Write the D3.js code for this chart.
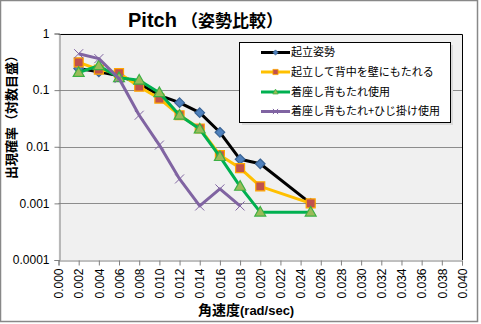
<!DOCTYPE html>
<html>
<head>
<meta charset="utf-8">
<script src="https://cdn.jsdelivr.net/npm/d3@7"></script>
<style>
  html, body { margin: 0; padding: 0; background: #fff; }
  svg { display: block; font-family: "Liberation Sans", Arial, "Noto Sans CJK JP", sans-serif; }
</style>
</head>
<body>
<svg id="chart" width="481" height="324"></svg>
<script>
// Angular velocity (rad/sec) sample points
const xStanding = [0.002, 0.004, 0.006, 0.008, 0.010, 0.012, 0.014, 0.016, 0.018, 0.020, 0.025];
const xArmrest = [0.002, 0.004, 0.006, 0.008, 0.010, 0.012, 0.014, 0.016, 0.018];

// Occurrence probability per posture
const standing     = [0.24, 0.21, 0.18, 0.13, 0.081, 0.06, 0.04, 0.018, 0.006, 0.005, 0.001];
const wallLean     = [0.31, 0.23, 0.20, 0.115, 0.071, 0.036, 0.021, 0.0071, 0.0042, 0.002, 0.001];
const seatedBack   = [0.205, 0.27, 0.165, 0.15, 0.09, 0.036, 0.0205, 0.0067, 0.002, 0.0007, 0.0007];
const seatedArm    = [0.44, 0.36, 0.16, 0.036, 0.0107, 0.0027, 0.0009, 0.0018, 0.0009];

const seriesNames = ["起立姿勢", "起立して背中を壁にもたれる", "着座し背もたれ使用", "着座し背もたれ+ひじ掛け使用"];
const xTicks = d3.range(0, 0.0401, 0.002);
const yTicks = [0.0001, 0.001, 0.01, 0.1, 1];

const svg = d3.select("#chart");
const W = 481, H = 324;

// Chart frame
svg.append("rect").attr("x", 0.5).attr("y", 0.5).attr("width", W - 4).attr("height", H - 3)
  .attr("fill", "#fff").attr("stroke", "#888").attr("stroke-width", 1.5);

const x = d3.scaleLinear().domain([0, 0.04]).range([58.5, 462]);
const y = d3.scaleLog().domain([0.0001, 1]).range([260, 33.5]);

// Plot area
svg.append("rect").attr("x", x(0)).attr("y", y(1)).attr("width", x(0.04) - x(0)).attr("height", y(0.0001) - y(1))
  .attr("fill", "#F0F0F0");

// Horizontal decade gridlines
svg.append("g").selectAll("line").data([0.001, 0.01, 0.1]).join("line")
  .attr("x1", x(0)).attr("x2", x(0.04))
  .attr("y1", d => Math.round(y(d)) + 0.5).attr("y2", d => Math.round(y(d)) + 0.5)
  .attr("stroke", "#8C8C8C").attr("stroke-width", 1);

// Top and right frame of the plot area
svg.append("path")
  .attr("d", `M${x(0)},${Math.round(y(1)) + 0.5}H${Math.round(x(0.04)) + 0.5}V${y(0.0001)}`)
  .attr("fill", "none").attr("stroke", "#000").attr("stroke-width", 1);

// Axes
const xAxis = d3.axisBottom(x).tickValues(xTicks).tickFormat(d3.format(".3f")).tickSize(5).tickPadding(3);
const gx = svg.append("g").attr("transform", `translate(0,${Math.round(y(0.0001)) + 0.5})`).call(xAxis);
gx.select(".domain").attr("stroke", "#808080");
gx.selectAll(".tick line").attr("stroke", "#808080");
gx.selectAll(".tick text")
  .attr("transform", "rotate(-90)")
  .attr("text-anchor", "end")
  .attr("x", -8).attr("y", 0).attr("dy", "0.35em")
  .attr("font-size", 12).attr("fill", "#000")
  .style("font-family", "'Liberation Sans', Arial, sans-serif");

const yAxis = d3.axisLeft(y).tickValues(yTicks).tickFormat(d => String(d)).tickSize(5).tickPadding(5);
const gy = svg.append("g").attr("transform", `translate(${Math.round(x(0)) + 0.5},0)`).call(yAxis);
gy.select(".domain").attr("stroke", "#808080");
gy.selectAll(".tick line").attr("stroke", "#808080");
gy.selectAll(".tick text").attr("font-size", 12).attr("fill", "#000")
  .style("font-family", "'Liberation Sans', Arial, sans-serif");

// Series styles
const series = [
  { name: seriesNames[0], xs: xStanding, ys: standing,   line: "#000000", marker: "diamond",  fill: "#4F81BD", stroke: "#3A6496" },
  { name: seriesNames[1], xs: xStanding, ys: wallLean,   line: "#FFC000", marker: "square",   fill: "#C0504D", stroke: "#FFA500" },
  { name: seriesNames[2], xs: xStanding, ys: seatedBack, line: "#00B050", marker: "triangle", fill: "#9BBB59", stroke: "#3CB043" },
  { name: seriesNames[3], xs: xArmrest,  ys: seatedArm,  line: "#8064A2", marker: "x",        fill: "none",    stroke: "#8064A2" }
];

function markerPath(type, s) {
  if (type === "diamond") return `M0,${-s}L${s},0L0,${s}L${-s},0Z`;
  if (type === "square") return `M${-s},${-s}H${s}V${s}H${-s}Z`;
  if (type === "triangle") return `M0,${-s * 1.1}L${s * 1.05},${s * 0.75}H${-s * 1.05}Z`;
  return `M${-s},${-s}L${s},${s}M${-s},${s}L${s},${-s}`;
}
const markerSize = { diamond: 4.8, square: 4.5, triangle: 5.2, x: 4.5 };

const line = d3.line().x(d => x(d[0])).y(d => y(d[1]));
const plot = svg.append("g");

// Series drawn in order, later ones on top
series.forEach(s => {
  const pts = s.xs.map((v, i) => [v, s.ys[i]]);
  const g = plot.append("g");
  g.append("path").datum(pts).attr("d", line)
    .attr("fill", "none").attr("stroke", s.line).attr("stroke-width", 3)
    .attr("stroke-linejoin", "round");
  g.selectAll("path.m").data(pts).join("path").attr("class", "m")
    .attr("transform", d => `translate(${x(d[0])},${y(d[1])})`)
    .attr("d", markerPath(s.marker, markerSize[s.marker]))
    .attr("fill", s.fill).attr("stroke", s.stroke)
    .attr("stroke-width", s.marker === "x" ? 1 : 1.2);
});

// Legend
const lg = svg.append("g");
lg.append("rect").attr("x", 242).attr("y", 45).attr("width", 211).attr("height", 80).attr("fill", "#DADADA");
lg.append("rect").attr("x", 239.5).attr("y", 42.5).attr("width", 211).attr("height", 80)
  .attr("fill", "#fff").attr("stroke", "#000").attr("stroke-width", 1);
const legendY = [52.5, 72, 92, 111.5];
series.forEach((s, i) => {
  const gy2 = legendY[i];
  lg.append("line").attr("x1", 261).attr("x2", 290).attr("y1", gy2).attr("y2", gy2)
    .attr("stroke", s.line).attr("stroke-width", 3);
  lg.append("path").attr("transform", `translate(275.5,${gy2})`)
    .attr("d", markerPath(s.marker, 2.6))
    .attr("fill", s.fill).attr("stroke", s.stroke).attr("stroke-width", s.marker === "x" ? 1 : 0.8);
  lg.append("text").attr("x", 291).attr("y", gy2).attr("dy", "0.36em")
    .attr("font-size", 11).style("font-family", "'Noto Sans CJK JP', sans-serif")
    .text(s.name);
});

// Title
const title = svg.append("text").attr("x", 128).attr("y", 27).attr("font-weight", "bold");
title.append("tspan").attr("font-size", 20).style("font-family", "'Liberation Sans', Arial, sans-serif").text("Pitch");
title.append("tspan").attr("font-size", 17).attr("dx", 4).style("font-family", "'Noto Sans CJK JP', sans-serif").text("（姿勢比較）");

// Axis titles
svg.append("text")
  .attr("transform", `translate(16,114) rotate(-90)`)
  .attr("text-anchor", "middle").attr("font-size", 13).attr("font-weight", "bold")
  .style("font-family", "'Noto Sans CJK JP', sans-serif")
  .text("出現確率（対数目盛）");

const xt = svg.append("text").attr("x", 198).attr("y", 315).attr("font-weight", "bold");
xt.append("tspan").attr("font-size", 14).style("font-family", "'Noto Sans CJK JP', sans-serif").text("角速度");
xt.append("tspan").attr("font-size", 13).style("font-family", "'Liberation Sans', Arial, sans-serif").text("(rad/sec)");
</script>
</body>
</html>
